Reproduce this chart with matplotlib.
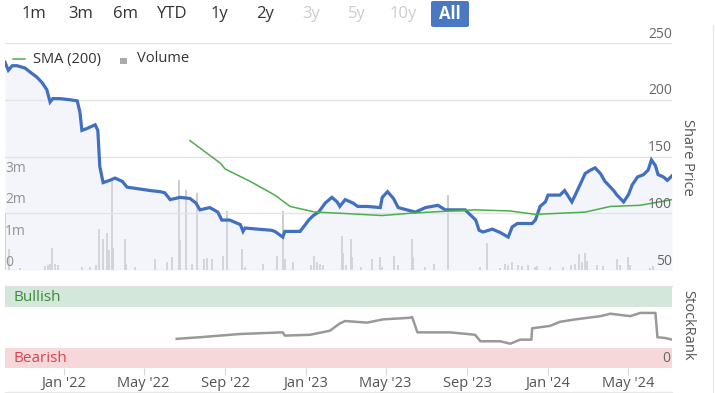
import matplotlib
matplotlib.use("Agg")
import matplotlib.pyplot as plt
import matplotlib.dates as mdates
from matplotlib.patches import FancyBboxPatch
from matplotlib.lines import Line2D
import numpy as np
import pandas as pd

plt.rcParams['font.family'] = ['Open Sans', 'DejaVu Sans']

# ---------------- data ----------------
price_dates = ['2021-10-04','2021-10-09','2021-10-15','2021-10-22','2021-11-03','2021-11-14','2021-11-21',
               '2021-11-29','2021-12-06','2021-12-11','2021-12-15','2021-12-26','2022-01-10','2022-01-21',
               '2022-01-25','2022-01-28','2022-02-06','2022-02-17','2022-02-21','2022-02-24','2022-03-01',
               '2022-03-11','2022-03-19','2022-03-30','2022-04-06','2022-04-18','2022-05-11','2022-05-26',
               '2022-06-02','2022-06-10','2022-06-25','2022-07-10','2022-07-19','2022-07-25','2022-08-09',
               '2022-08-21','2022-08-27','2022-09-08','2022-09-24','2022-09-28','2022-10-01','2022-10-20',
               '2022-11-10','2022-11-15','2022-11-27','2022-11-30','2022-12-23','2022-12-31','2023-01-05',
               '2023-01-12','2023-01-20','2023-01-30','2023-02-09','2023-02-17','2023-02-21','2023-03-01',
               '2023-03-13','2023-03-20','2023-04-04','2023-04-23','2023-04-26','2023-05-04','2023-05-13',
               '2023-05-20','2023-06-15','2023-06-30','2023-07-19','2023-07-30','2023-08-29','2023-09-14',
               '2023-09-19','2023-09-25','2023-10-09','2023-10-21','2023-11-02','2023-11-08','2023-11-16',
               '2023-12-08','2023-12-13','2023-12-20','2023-12-28','2024-01-01','2024-01-19','2024-01-26',
               '2024-02-06','2024-02-11','2024-02-19','2024-02-26','2024-03-05','2024-03-12','2024-03-20',
               '2024-03-27','2024-04-01','2024-04-09','2024-04-14','2024-04-19','2024-04-24','2024-05-01',
               '2024-05-07','2024-05-15','2024-05-24','2024-05-31','2024-06-05','2024-06-11','2024-06-15',
               '2024-06-23','2024-06-29','2024-07-06']
price_values = [233,226,230,230,228,223,220,
                215,209,198,201,201,200,199,
                189,173,175,178,173,141,127,
                129,131,128,123,122,120,119,
                118,112,114,113,109,103,105,
                101,94,94,90,84,87,86,
                85,84,79,84,84,90,94,
                98,101,109,114,110,106,112,
                109,106,106,105,114,119,113,
                105,101,105,107,103,103,94,
                85,83.5,86,83,79,88,91,
                91,94,106,110,116,116,120,
                110,116,126,135,138,140,135,
                128,125,120,116,113,110,116,
                125,132,134,138,147,142,134,
                132,129,133]

sma_dates = ['2022-07-10','2022-08-25','2022-09-01','2022-10-09','2022-11-15','2022-12-08','2023-01-15',
             '2023-02-21','2023-04-26','2023-06-07','2023-08-06','2023-09-13','2023-11-05','2023-12-13',
             '2024-01-19','2024-02-26','2024-04-04','2024-05-19','2024-07-06']
sma_values = [164,144,139,128,116,106,101,
              100,98,100,102,103,102,99,
              100,101,106,107,112]

vol_dates = ['2021-10-04','2021-10-10','2021-10-27','2021-12-03','2021-12-08','2021-12-11','2021-12-14',
             '2021-12-18','2021-12-23','2022-01-28','2022-02-09','2022-02-18','2022-02-23','2022-03-01',
             '2022-03-07','2022-03-10','2022-03-14','2022-03-16','2022-04-03','2022-04-05','2022-04-18',
             '2022-05-18','2022-06-05','2022-06-13','2022-06-24','2022-06-25','2022-07-04','2022-07-13',
             '2022-07-21','2022-07-31','2022-08-05','2022-08-12','2022-08-29','2022-09-04','2022-09-27',
             '2022-10-01','2022-10-28','2022-11-18','2022-11-27','2022-11-30','2022-12-13','2023-01-09',
             '2023-01-13','2023-01-18','2023-01-22','2023-01-27','2023-02-24','2023-02-26','2023-03-03',
             '2023-03-10','2023-03-12','2023-03-25','2023-04-11','2023-04-23','2023-04-26','2023-05-14',
             '2023-05-20','2023-06-10','2023-06-12','2023-06-30','2023-07-13','2023-08-03','2023-09-21',
             '2023-10-01','2023-10-21','2023-10-28','2023-11-02','2023-11-08','2023-11-16','2023-11-23',
             '2023-12-02','2023-12-13','2023-12-16','2024-01-04','2024-01-24','2024-02-04','2024-02-11',
             '2024-02-16','2024-02-22','2024-02-26','2024-02-29','2024-03-15','2024-03-24','2024-04-14',
             '2024-04-19','2024-04-30','2024-05-04','2024-06-03','2024-06-08']
vol_values = [1.8,0.68,0.05,0.12,0.15,0.2,0.7,
              0.2,0.15,0.1,0.1,0.15,1.3,1.0,
              1.17,0.65,2.87,0.7,1.0,0.2,0.1,
              0.35,0.25,0.4,2.87,0.95,2.55,0.2,
              2.45,0.35,0.38,0.35,0.45,1.9,0.68,
              0.1,0.2,0.45,1.9,0.35,0.25,0.15,
              0.45,0.25,0.2,0.15,1.1,0.55,0.15,
              1.0,0.4,0.1,0.35,0.4,0.1,0.45,
              0.15,1.0,0.4,0.1,0.2,2.4,0.1,
              0.85,0.05,0.2,0.15,0.25,0.15,0.12,
              0.15,0.1,0.12,0.1,0.1,0.15,0.2,
              0.5,0.25,0.55,0.3,0.15,0.12,0.35,
              0.15,0.4,0.15,0.05,0.12]

rank_dates = ['2022-06-20','2022-07-25','2022-09-24','2022-11-27','2022-11-30','2023-01-07','2023-02-06',
              '2023-02-21','2023-03-01','2023-04-03','2023-04-27','2023-06-07','2023-06-10','2023-06-18',
              '2023-08-06','2023-09-01','2023-09-13','2023-09-21','2023-10-21','2023-11-05','2023-11-20',
              '2023-12-07','2023-12-08','2024-01-04','2024-01-19','2024-02-11','2024-03-20','2024-04-04',
              '2024-05-04','2024-05-19','2024-06-11','2024-06-14','2024-06-26','2024-07-06']
rank_values = [36,38,42,44,40,41,46,
               55,58,56,60,62,63,44,
               44,42,41,33,33,30,35,
               35,49,52,57,60,64,67,
               64,68,68,38,37,35]

price_ticks = [50, 100, 150, 200, 250]
vol_ticks = [0, 1, 2, 3]
vol_tick_labels = ['0', '1m', '2m', '3m']
x_tick_dates = ['2022-01-01','2022-05-01','2022-09-01','2023-01-01','2023-05-01','2023-09-01','2024-01-01','2024-05-01']
x_tick_labels = ["Jan '22", "May '22", "Sep '22", "Jan '23", "May '23", "Sep '23", "Jan '24", "May '24"]
buttons = ['1m', '3m', '6m', 'YTD', '1y', '2y', '3y', '5y', '10y', 'All']
button_enabled = [True, True, True, True, True, True, False, False, False, True]

# ---------------- figure ----------------
W, H = 715, 393
fig = plt.figure(figsize=(W / 100, H / 100), dpi=100)
fig.patch.set_facecolor('white')

def fx(px):
    return px / W

def fy(py):
    return 1 - py / H

left, right = 5, 672
main_top, main_bot = 43, 270
rank_top, rank_bot = 287, 368

xmin = pd.Timestamp('2021-10-04')
xmax = pd.Timestamp('2024-07-06')

pos_main = [fx(left), fy(main_bot), fx(right) - fx(left), fy(main_top) - fy(main_bot)]

# volume axes (bottom layer)
ax_v = fig.add_axes(pos_main)
ax_v.set_zorder(1)
vd = pd.to_datetime(vol_dates)
ax_v.vlines(vd, 0, vol_values, color='#c8c8c8', lw=1.3)
ax_v.set_ylim(0, 7.25)
ax_v.set_xlim(xmin, xmax)
ax_v.axis('off')
for v, lab in zip(vol_ticks, vol_tick_labels):
    ax_v.text(0.0, v, lab, transform=ax_v.get_yaxis_transform(), ha='left', va='bottom',
              fontsize=10, color='#666666')

# price axes (top layer)
ax_p = fig.add_axes(pos_main, sharex=ax_v)
ax_p.set_zorder(2)
ax_p.patch.set_visible(False)
pdts = pd.to_datetime(price_dates)
ax_p.fill_between(pdts, price_values, 50, color='#dfe5f4', alpha=0.35, lw=0)
ax_p.plot(pdts, price_values, color='#4270c0', lw=2.3, solid_joinstyle='miter')
ax_p.plot(pd.to_datetime(sma_dates), sma_values, color='#4cae4c', lw=1.1)
ax_p.set_ylim(50, 250)
ax_p.set_xlim(xmin, xmax)
for s in ax_p.spines.values():
    s.set_visible(False)
ax_p.set_xticks([])
ax_p.set_yticks([])
for t in price_ticks:
    ax_p.axhline(t, color='#e3e3e3', lw=1, zorder=0)
    ax_p.text(1.0, t + 1.2, str(t), transform=ax_p.get_yaxis_transform(), ha='right', va='bottom',
              fontsize=10, color='#666666')

fig.text(fx(688), fy(157), 'Share Price', rotation=270, ha='center', va='center', fontsize=10.5, color='#555555')

# legend
fig.add_artist(Line2D([fx(13), fx(25)], [fy(59), fy(59)], color='#4cae4c', lw=1.1))
fig.text(fx(33), fy(59), 'SMA (200)', ha='left', va='center', fontsize=10.5, color='#333333')
fig.add_artist(FancyBboxPatch((fx(120), fy(64)), fx(7), fy(58) - fy(64), boxstyle='square,pad=0',
                              transform=fig.transFigure, color='#aaaaaa', lw=0))
fig.text(fx(137), fy(59), 'Volume', ha='left', va='center', fontsize=10.5, color='#333333')

# ---------------- StockRank panel ----------------
ax_r = fig.add_axes([fx(left), fy(rank_bot), fx(right) - fx(left), fy(rank_top) - fy(rank_bot)])
ax_r.axhspan(75, 100, color='#d3e7da', lw=0)
ax_r.axhspan(0, 25, color='#f6d8da', lw=0)
ax_r.plot(pd.to_datetime(rank_dates), rank_values, color='#999999', lw=1.8)
ax_r.set_ylim(0, 100)
ax_r.set_xlim(xmin, xmax)
for k, s in ax_r.spines.items():
    s.set_visible(False)
ax_r.set_yticks([])
ax_r.set_xticks(pd.to_datetime(x_tick_dates))
ax_r.set_xticklabels(x_tick_labels)
ax_r.tick_params(axis='x', length=5, color='#d8d8d8', labelsize=10.5, labelcolor='#555555', pad=0.8)
ax_r.text(0.013, 87.5, 'Bullish', transform=ax_r.get_yaxis_transform(), ha='left', va='center',
          fontsize=11, color='#3c8a3c')
ax_r.text(0.013, 12.0, 'Bearish', transform=ax_r.get_yaxis_transform(), ha='left', va='center',
          fontsize=11, color='#d9434f')
ax_r.text(0.997, 3, '0', transform=ax_r.get_yaxis_transform(), ha='right', va='bottom',
          fontsize=10, color='#666666')
fig.add_artist(Line2D([fx(left), fx(right)], [fy(285.5), fy(285.5)], color='#e3e3e3', lw=1))
fig.add_artist(Line2D([fx(left), fx(right)], [fy(392), fy(392)], color='#e8e8e8', lw=1))
fig.text(fx(688), fy(325), 'StockRank', rotation=270, ha='center', va='center', fontsize=10.5, color='#555555')

# page separator on the right
fig.add_artist(Line2D([fx(712.5), fx(712.5)], [fy(25), fy(393)], color='#e6e6e6', lw=1))

# ---------------- range buttons ----------------
btn_x = [34, 81, 126, 172, 219, 265, 311, 357, 403, 450]
for bx, lab, en in zip(btn_x, buttons, button_enabled):
    if lab == 'All':
        fig.add_artist(FancyBboxPatch((fx(431), fy(27)), fx(38), fy(1) - fy(27),
                                      boxstyle='round,pad=0,rounding_size=0.004',
                                      transform=fig.transFigure, color='#4a78c2', lw=0))
        fig.text(fx(bx), fy(14), lab, ha='center', va='center', fontsize=12, color='white', fontweight='bold')
    else:
        fig.text(fx(bx), fy(14), lab, ha='center', va='center', fontsize=12,
                 color='#333333' if en else '#cccccc')

fig.savefig('out.png', dpi=100, facecolor='white')
